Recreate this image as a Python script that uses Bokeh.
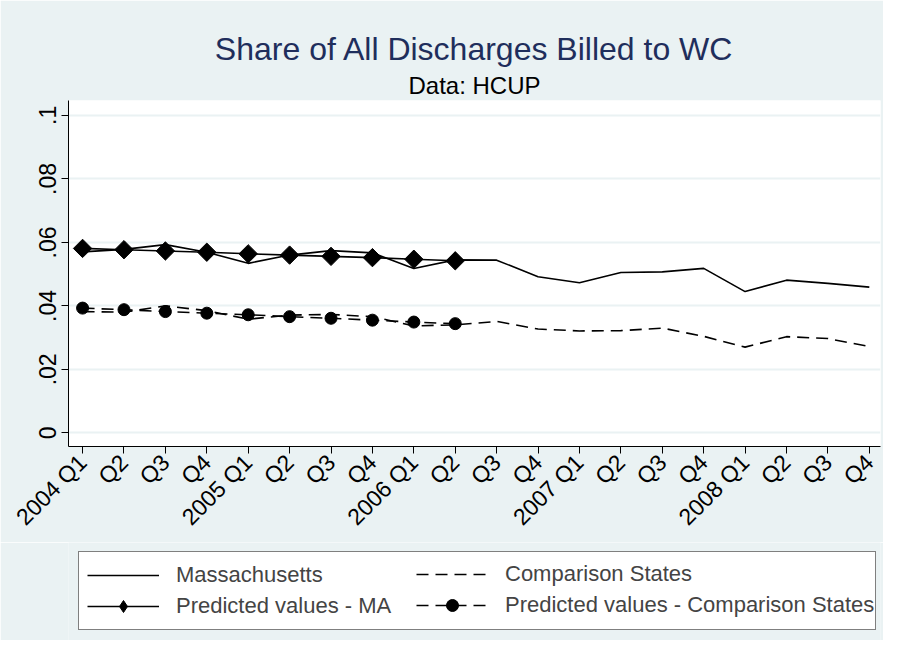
from bokeh.plotting import figure
from bokeh.layouts import column
from bokeh.models import FixedTicker, Title, Legend, LegendItem, Range1d
from bokeh.embed import file_html
from bokeh.resources import INLINE

quarters = ["2004 Q1", "Q2", "Q3", "Q4", "2005 Q1", "Q2", "Q3", "Q4",
            "2006 Q1", "Q2", "Q3", "Q4", "2007 Q1", "Q2", "Q3", "Q4",
            "2008 Q1", "Q2", "Q3", "Q4"]
ma_actual = [0.0570, 0.0578, 0.0593, 0.0569, 0.0534, 0.0560, 0.0574, 0.0567,
             0.0518, 0.0545, 0.0544, 0.0492, 0.0473, 0.0505, 0.0507, 0.0518,
             0.0445, 0.0481, 0.0471, 0.0459]
comp_actual = [0.0382, 0.0380, 0.0400, 0.0385, 0.0358, 0.0371, 0.0373, 0.0366,
               0.0337, 0.0340, 0.0351, 0.0327, 0.0321, 0.0322, 0.0330, 0.0304,
               0.0270, 0.0303, 0.0297, 0.0272]
ma_pred = [0.0581, 0.0577, 0.0573, 0.0569, 0.0564, 0.0560, 0.0556, 0.0552,
           0.0547, 0.0542]
comp_pred = [0.0393, 0.0388, 0.0382, 0.0377, 0.0372, 0.0366, 0.0361, 0.0355,
             0.0349, 0.0344]
y_ticks = [0, 0.02, 0.04, 0.06, 0.08, 0.1]
y_tick_labels = ["0", ".02", ".04", ".06", ".08", ".1"]
legend_labels = ["Massachusetts", "Predicted values - MA",
                 "Comparison States", "Predicted values - Comparison States"]

x_all = list(range(len(quarters)))
x_pred = list(range(len(ma_pred)))

FONT = "Liberation Sans"
BG = "#EAF2F3"
DASH = "12 7"


def draw_series(fig, dmarker, dsize, dangle, csize):
    a = fig.line(x_all, ma_actual, line_color="black", line_width=1.6)
    b = fig.line(x_all, comp_actual, line_color="black", line_width=1.6,
                 line_dash=DASH)
    c = fig.line(x_pred, ma_pred, line_color="black", line_width=1.6)
    cm = fig.scatter(x_pred, ma_pred, marker=dmarker, angle=dangle,
                     size=dsize, fill_color="black", line_color="black")
    d = fig.line(x_pred, comp_pred, line_color="black", line_width=1.6,
                 line_dash=DASH)
    dm = fig.scatter(x_pred, comp_pred, marker="circle", size=csize,
                     fill_color="black", line_color="black")
    return a, b, c, cm, d, dm


p = figure(width=883, height=542, output_backend="svg",
           toolbar_location=None,
           x_range=Range1d(-0.34, 19.27), y_range=Range1d(-0.0043, 0.1047),
           min_border_left=68, min_border_right=3, min_border_top=100,
           min_border_bottom=95)
p.background_fill_color = "white"
p.border_fill_color = BG
p.outline_line_color = None

p.add_layout(Title(text="Data: HCUP", align="center", text_font=FONT,
                   text_font_size="24px", text_font_style="normal",
                   text_color="black", standoff=4), "above")
p.add_layout(Title(text="Share of All Discharges Billed to WC", align="center",
                   text_font=FONT, text_font_size="32px",
                   text_font_style="normal", text_color="#1f2e5c",
                   standoff=2), "above")

p.xaxis.ticker = FixedTicker(ticks=x_all)
p.xaxis.major_label_overrides = {i: q for i, q in enumerate(quarters)}
p.xaxis.major_label_orientation = 0.785398
p.yaxis.ticker = FixedTicker(ticks=y_ticks)
p.yaxis.major_label_overrides = {t: l for t, l in zip(y_ticks, y_tick_labels)}
p.yaxis.major_label_orientation = "vertical"
for ax in (p.xaxis, p.yaxis):
    ax.major_label_text_font = FONT
    ax.major_label_text_font_size = "23px"
    ax.major_label_text_color = "black"
    ax.axis_line_color = "black"
    ax.major_tick_line_color = "black"
    ax.major_tick_in = 0
    ax.major_tick_out = 7
    ax.minor_tick_line_color = None
    ax.major_label_standoff = 5
p.xgrid.grid_line_color = None
p.ygrid.grid_line_color = BG
p.ygrid.grid_line_width = 2

draw_series(p, "square", 13, 0.785398, 12)

# legend panel below (series drawn off-range, used only for legend glyphs)
q = figure(width=883, height=98, output_backend="svg", toolbar_location=None,
           x_axis_type=None, y_axis_type=None,
           x_range=Range1d(100, 101), y_range=Range1d(100, 101),
           min_border_left=68, min_border_right=3, min_border_top=0,
           min_border_bottom=0)
q.background_fill_color = BG
q.border_fill_color = BG
q.outline_line_color = None
q.xgrid.grid_line_color = None
q.ygrid.grid_line_color = None
l1, l2, l3, m3, l4, m4 = draw_series(q, "diamond", 24, 0, 10)


def style(lg, border):
    lg.label_text_font = FONT
    lg.label_text_font_size = "22px"
    lg.glyph_width = 72
    lg.glyph_height = 30
    lg.label_standoff = 17
    lg.spacing = 1
    lg.padding = 8
    lg.margin = 0
    if border:
        lg.border_line_color = "black"
        lg.border_line_width = 1
        lg.background_fill_color = "white"
        lg.background_fill_alpha = 1
    else:
        lg.border_line_color = None
        lg.background_fill_alpha = 0


leg_a = Legend(items=[
    LegendItem(label=legend_labels[0], renderers=[l1]),
    LegendItem(label=legend_labels[1], renderers=[l3, m3]),
], location=(10, 10), orientation="vertical")
style(leg_a, True)
leg_a.label_width = 691

leg_b = Legend(items=[
    LegendItem(label=legend_labels[2], renderers=[l2]),
    LegendItem(label=legend_labels[3], renderers=[l4, m4]),
], location=(348, 20), orientation="vertical")
style(leg_b, False)

q.add_layout(leg_a, "center")
q.add_layout(leg_b, "center")

layout = column(p, q, spacing=0)
open("out.html", "w").write(file_html(layout, INLINE))
